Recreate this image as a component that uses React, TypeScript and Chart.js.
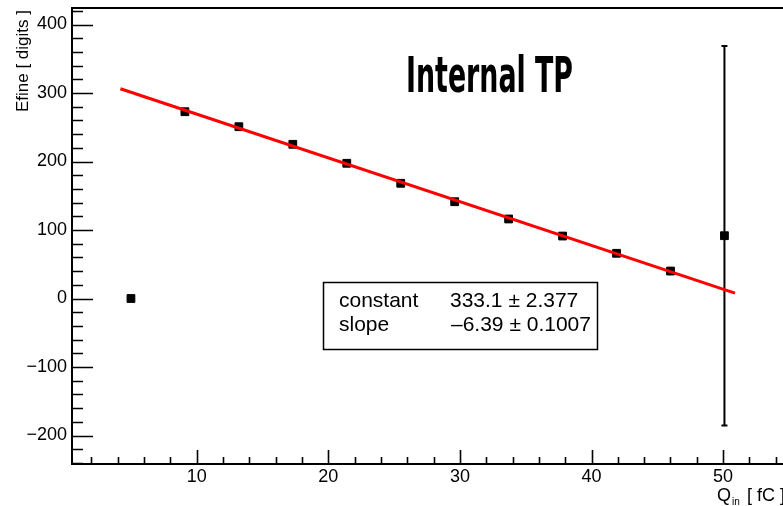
import { useEffect, useRef } from "react";
import { Chart, registerables } from "chart.js";

Chart.register(...registerables);

// Measured injected charge (fC) and the fine-energy response (digits)
const chargeFC = [5.0, 9.1, 13.2, 17.3, 21.4, 25.5, 29.6, 33.7, 37.8, 41.9, 46.0, 50.1];
const efineDigits = [0, 272.7, 250.8, 225.1, 197.4, 168.2, 141.3, 116.1, 91.2, 66.0, 40.1, 91.7];
const efineErrors = [0, 2, 2, 2, 2, 2, 2, 2, 2, 2, 6, 277];

// Linear fit result
const fitConstant = 333.1;
const fitConstantErr = 2.377;
const fitSlope = -6.39;
const fitSlopeErr = 0.1007;
const fitRange = [4.2, 50.9];

// Axis ranges and labelled ticks
const xRange = [0.52, 54.55];
const yRange = [-241.6, 424.1];
const xTicks = [10, 20, 30, 40, 50];
const yTicks = [-200, -100, 0, 100, 200, 300, 400];
const xMinorStep = 2;
const yMinorStep = 20;

const titleText = "Internal TP";
const yTitle = "Efine [ digits ]";

const FONT = "'Liberation Sans', Arial, Helvetica, sans-serif";

const fmtMinus = (v: number) => (v < 0 ? "\u2212" + Math.abs(v) : String(v));

const framePlugin = {
  id: "rootFrame",
  beforeDatasetsDraw(chart: any) {
    const { ctx } = chart;
    const xs = chart.scales.x;
    const ys = chart.scales.y;
    ctx.save();
    ctx.strokeStyle = "#000";
    ctx.lineWidth = 2;
    chargeFC.forEach((q, i) => {
      const e = efineErrors[i];
      if (e <= 0) return;
      const px = xs.getPixelForValue(q);
      const top = ys.getPixelForValue(efineDigits[i] + e);
      const bot = ys.getPixelForValue(efineDigits[i] - e);
      ctx.beginPath();
      ctx.moveTo(px, top);
      ctx.lineTo(px, bot);
      ctx.stroke();
      if (bot - top > 14) {
        ctx.beginPath();
        ctx.moveTo(px - 3, top);
        ctx.lineTo(px + 3, top);
        ctx.moveTo(px - 3, bot);
        ctx.lineTo(px + 3, bot);
        ctx.stroke();
      }
    });
    ctx.restore();
  },
  afterDraw(chart: any) {
    const { ctx, chartArea } = chart;
    const xs = chart.scales.x;
    const ys = chart.scales.y;
    const { left, top, bottom, right } = chartArea;
    ctx.save();

    // frame
    ctx.strokeStyle = "#000";
    ctx.lineWidth = 2;
    ctx.beginPath();
    ctx.moveTo(right + 10, top);
    ctx.lineTo(left, top);
    ctx.lineTo(left, bottom);
    ctx.lineTo(right + 10, bottom);
    ctx.stroke();

    // y ticks (inside the frame)
    ctx.lineWidth = 1.6;
    ctx.beginPath();
    for (let v = Math.ceil(yRange[0] / yMinorStep) * yMinorStep; v <= yRange[1]; v += yMinorStep) {
      const py = Math.round(ys.getPixelForValue(v)) + 0.5;
      const major = yTicks.includes(v);
      ctx.moveTo(left, py);
      ctx.lineTo(left + (major ? 21 : 11), py);
    }
    // x ticks
    for (let v = Math.ceil(xRange[0] / xMinorStep) * xMinorStep; v <= xRange[1]; v += xMinorStep) {
      const px = Math.round(xs.getPixelForValue(v)) + 0.5;
      const major = xTicks.includes(v);
      ctx.moveTo(px, bottom);
      ctx.lineTo(px, bottom - (major ? 14 : 7));
    }
    ctx.stroke();

    // y-axis title
    ctx.fillStyle = "#000";
    ctx.save();
    ctx.translate(28, top + 2);
    ctx.rotate(-Math.PI / 2);
    ctx.font = `17px ${FONT}`;
    ctx.textAlign = "right";
    ctx.textBaseline = "alphabetic";
    ctx.fillText(yTitle, 0, 0);
    ctx.restore();

    // x-axis title: Q_in [ fC ]
    ctx.font = `18px ${FONT}`;
    ctx.textAlign = "left";
    ctx.textBaseline = "alphabetic";
    ctx.fillText("Q", 717, 501);
    ctx.font = `10px ${FONT}`;
    ctx.fillText("in", 732, 505);
    ctx.font = `18px ${FONT}`;
    ctx.fillText("[ fC ]", 747, 501);

    // plot title
    ctx.font = `bold 50px 'DejaVu Sans Condensed', 'DejaVu Sans', sans-serif`;
    const tw = ctx.measureText(titleText).width;
    ctx.save();
    ctx.translate(406, 92);
    ctx.scale(167 / tw, 1);
    ctx.textAlign = "left";
    ctx.fillText(titleText, 0, 0);
    ctx.restore();

    // fit statistics box
    const bx = 323.5, by = 282.5, bw = 274, bh = 67;
    ctx.fillStyle = "#fff";
    ctx.fillRect(bx, by, bw, bh);
    ctx.strokeStyle = "#000";
    ctx.lineWidth = 1.5;
    ctx.strokeRect(bx, by, bw, bh);
    ctx.fillStyle = "#000";
    ctx.font = `21px ${FONT}`;
    ctx.textAlign = "left";
    ctx.fillText("constant", 339, 307);
    ctx.fillText(`${fitConstant.toFixed(1)} \u00b1 ${fitConstantErr}`, 450, 307);
    ctx.fillText("slope", 339, 331);
    ctx.fillText(`\u2013${Math.abs(fitSlope).toFixed(2)} \u00b1 ${fitSlopeErr}`, 451, 331);

    ctx.restore();
  },
};

export default function App() {
  const canvasRef = useRef<HTMLCanvasElement | null>(null);

  useEffect(() => {
    const canvas = canvasRef.current;
    if (!canvas) return;

    const points = chargeFC.map((q, i) => ({ x: q, y: efineDigits[i] }));
    const fitLine = fitRange.map((q) => ({ x: q, y: fitConstant + fitSlope * q }));

    const chart = new Chart(canvas, {
      type: "scatter",
      data: {
        datasets: [
          {
            type: "line",
            data: fitLine,
            borderColor: "#ff0000",
            borderWidth: 3,
            pointRadius: 0,
            fill: false,
            order: 0,
          },
          {
            type: "scatter",
            data: points,
            pointStyle: "rect",
            pointRadius: 5.5,
            pointBackgroundColor: "#000",
            pointBorderColor: "#000",
            pointBorderWidth: 1,
            order: 1,
          },
        ],
      } as any,
      options: {
        animation: false,
        responsive: false,
        devicePixelRatio: 1,
        layout: { autoPadding: false, padding: { top: 8, left: 0, right: 0, bottom: 0 } },
        plugins: {
          legend: { display: false },
          tooltip: { enabled: false },
        },
        scales: {
          x: {
            type: "linear",
            min: xRange[0],
            max: xRange[1],
            grid: { display: false, drawTicks: false },
            border: { display: false },
            ticks: {
              color: "#000",
              font: { family: FONT, size: 18 },
              padding: 2,
              maxRotation: 0,
              autoSkip: false,
            },
            afterBuildTicks: (s: any) => {
              s.ticks = xTicks.map((v) => ({ value: v }));
            },
            afterFit: (s: any) => {
              s.height = 42;
              s.paddingLeft = 0;
              s.paddingRight = 0;
            },
          },
          y: {
            type: "linear",
            min: yRange[0],
            max: yRange[1],
            grid: { display: false, drawTicks: false },
            border: { display: false },
            ticks: {
              color: "#000",
              font: { family: FONT, size: 18 },
              padding: 5,
              autoSkip: false,
              callback: (v: any) => fmtMinus(Number(v)),
            },
            afterBuildTicks: (s: any) => {
              s.ticks = yTicks.map((v) => ({ value: v }));
            },
            afterFit: (s: any) => {
              s.width = 72;
              s.paddingTop = 0;
              s.paddingBottom = 0;
            },
          },
        },
      } as any,
      plugins: [framePlugin],
    });

    return () => chart.destroy();
  }, []);

  return (
    <div style={{ position: "fixed", left: 0, top: 0, width: 783, height: 506, background: "#fff" }}>
      <canvas ref={canvasRef} width={783} height={506} />
    </div>
  );
}
